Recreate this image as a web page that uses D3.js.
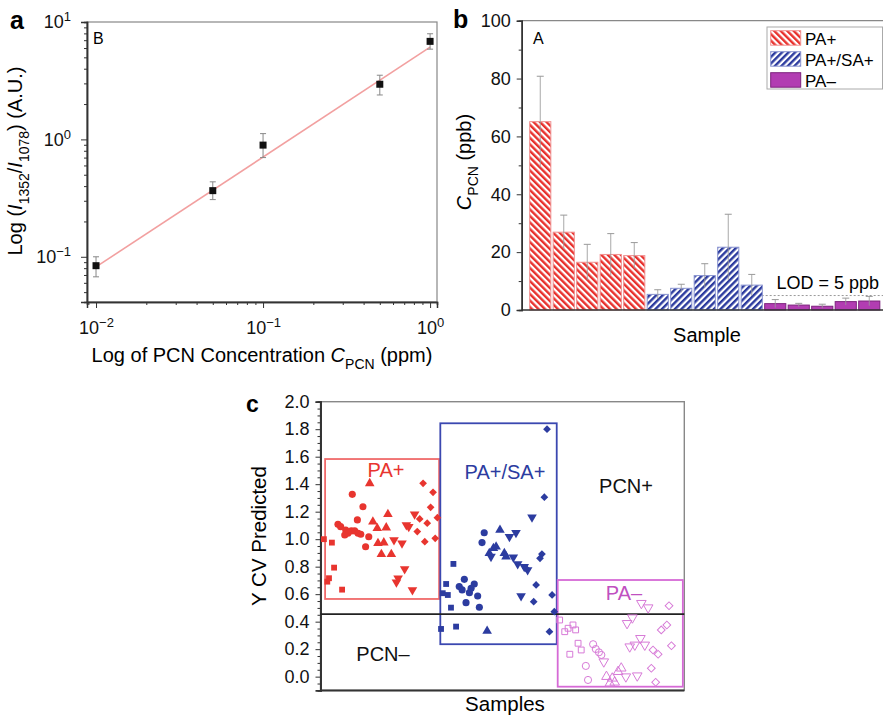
<!DOCTYPE html>
<html>
<head>
<meta charset="utf-8">
<script src="https://cdn.jsdelivr.net/npm/d3@7"></script>
<style>
  body { margin: 0; background: #fff; }
  svg text { font-family: "Liberation Sans", Arial, sans-serif; }
</style>
</head>
<body>
<div id="content"></div>
<script>
// ---- panel a data
var aConc = [0.01, 0.05, 0.1, 0.5, 1];
var aRatio = [0.084, 0.366, 0.894, 2.95, 6.84];
var aLow = [0.0675, 0.307, 0.70, 2.39, 5.87];
var aHigh = [0.100, 0.435, 1.12, 3.52, 7.94];
var aFitX = [0.01, 1];
var aFitY = [0.082, 6.1];

// ---- panel b data
var bSamples = d3.range(1, 16);
var bGroups = ["PA+", "PA+", "PA+", "PA+", "PA+",
               "PA+/SA+", "PA+/SA+", "PA+/SA+", "PA+/SA+", "PA+/SA+",
               "PA–", "PA–", "PA–", "PA–", "PA–"];
var bValues = [65.1, 26.9, 16.5, 19.2, 18.8, 5.4, 7.5, 11.9, 21.7, 8.6, 2.2, 1.7, 1.3, 2.9, 3.1];
var bErrors = [15.7, 5.9, 6.2, 7.2, 4.5, 1.6, 1.4, 4.1, 11.4, 3.7, 1.4, 0.6, 0.7, 1.2, 1.6];
var bLegend = ["PA+", "PA+/SA+", "PA–"];
var bLod = 5;

// ---- panel c data  [sample, predicted]
var cRedSq  = [[1.4,1.00],[4.7,0.975],[5.6,0.793],[3.5,0.716],[2.8,0.691],[8.9,0.633]];
var cRedCi  = [[13.1,1.326],[17.5,1.236],[7.2,1.108],[8.3,1.091],[10.4,1.067],[11.3,1.043],[12.7,1.06],
               [14.1,1.06],[15.5,1.043],[16.6,1.036],[15.2,1.14],[19.9,1.018],[18.6,0.945],[10.0,1.03]];
var cRedTri = [[20.3,1.406],[27.8,1.181],[21.6,1.127],[23.4,1.079],[27.1,1.084],[23.7,0.97],[26.1,0.975],
               [25.1,0.89],[29.2,0.89]];
var cRedInv = [[30.3,0.994],[33.6,0.97],[34.7,0.783],[32.0,0.716],[31.3,0.687],[37.9,0.631],[35.4,1.103],
               [36.4,1.091],[38.8,1.181]];
var cRedDia = [[42.3,1.406],[46.4,1.341],[45.4,1.232],[40.9,1.147],[44.0,1.116],[48.2,1.156],[39.9,1.055],
               [43.0,0.982],[47.3,1.006]];

var cBlueSq  = [[54.8,0.82],[51.8,0.674],[50.4,0.607],[52.5,0.594],[53.8,0.502],[49.7,0.347],[55.9,0.364]];
var cBlueCi  = [[59.3,0.708],[57.2,0.655],[58.4,0.631],[63.4,0.674],[61.4,0.611],[62.1,0.643],[64.8,0.587],
                [60.0,0.538],[65.5,0.505],[67.5,1.047],[66.6,0.975]];
var cBlueTri = [[74.0,1.067],[72.4,0.945],[69.6,0.897],[75.8,0.897],[76.5,0.873],[68.7,0.332],[71.3,0.934]];
var cBlueInv = [[80.6,1.047],[77.9,1.018],[79.5,0.868],[81.3,0.82],[84.0,0.80],[85.4,0.776],[82.7,0.587],
                [87.2,1.159],[70.3,0.873]];
var cBlueDia = [[93.4,1.80],[92.3,1.305],[91.3,0.892],[90.5,0.861],[88.9,0.667],[87.9,0.545],[95.5,0.594],
                [96.4,0.473],[94.4,0.327],[84.7,0.788]];

var cMagSq  = [[98.6,0.412],[102.1,0.352],[100.7,0.327],[104.1,0.376],[105.2,0.34],[102.8,0.163],
               [106.2,0.243],[107.5,0.194]];
var cMagCi  = [[112.4,0.236],[113.5,0.201],[114.8,0.177],[115.8,0.158],[109.4,0.078],[110.3,-0.024]];
var cMagTri = [[117.9,0.0],[120.3,-0.012],[122.7,0.036],[124.0,0.061],[121.3,-0.041],[119.3,-0.048]];
var cMagInv = [[116.8,0.109],[126.4,0.388],[128.6,0.429],[132.3,0.534],[135.1,0.502],[127.5,0.218],
               [129.6,0.231],[131.9,0.279],[133.7,0.231],[130.6,0.007],[125.9,0.0]];
var cMagDia = [[143.7,0.516],[142.8,0.376],[140.5,0.34],[144.7,0.225],[137.1,0.194],[139.2,0.163],
               [136.4,0.061],[138.2,-0.041]];

var cBoxes = [[1.9, 48.9, 0.565, 1.583], [49.4, 97.4, 0.236, 1.843], [97.8, 149.4, -0.073, 0.703]];
var cThreshold = 0.455;
var cTicks = d3.range(0, 2.01, 0.2);

var svg = d3.select("#content").append("svg")
    .attr("width", 883).attr("height", 715);

var defs = svg.append("defs");
function hatch(id, color, angle) {
  var p = defs.append("pattern")
      .attr("id", id).attr("patternUnits", "userSpaceOnUse")
      .attr("width", 4.6).attr("height", 4.6)
      .attr("patternTransform", "rotate(" + angle + ")");
  p.append("rect").attr("width", 4.6).attr("height", 4.6).attr("fill", "#fff");
  p.append("rect").attr("width", 2.4).attr("height", 4.6).attr("fill", color);
}
hatch("hRed", "#e8302c", -45);
hatch("hBlue", "#2b3a9e", 45);

// helper: text with italic / subscript parts
function rich(sel, parts, subSize) {
  var shift = 0;
  parts.forEach(function(p) {
    var t = sel.append("tspan").text(p.t);
    var want = p.sub ? 0.35 : (p.sup ? -0.55 : 0);
    var em = p.sub || p.sup ? subSize : null;
    if (want !== shift) {
      t.attr("dy", (want - shift) * 20 + "px");
      shift = want;
    }
    if (p.it) t.attr("font-style", "italic");
    if (em) t.attr("font-size", em + "px");
  });
}

// ================= panel a =================
var ax = d3.scaleLog().domain([0.00883, 1.10]).range([87, 437]);
var ay = d3.scaleLog().domain([0.0412, 10]).range([302, 22]);
var ga = svg.append("g");

ga.append("rect").attr("x", 87).attr("y", 22).attr("width", 350).attr("height", 280)
  .attr("fill", "none").attr("stroke", "#888").attr("stroke-width", 1.2);

var minorX = [], minorY = [];
[0.001, 0.01, 0.1, 1].forEach(function(k) {
  for (var i = 2; i < 10; i++) {
    if (ax.domain()[0] <= i * k && i * k <= ax.domain()[1]) minorX.push(i * k);
    if (ay.domain()[0] <= i * k && i * k <= ay.domain()[1]) minorY.push(i * k);
  }
});

function sup10(selection, exps) {
  selection.selectAll(".tick text").each(function(d, i) {
    var t = d3.select(this).text("");
    t.append("tspan").text("10");
    t.append("tspan").attr("dy", "-0.55em").attr("font-size", "13px").text(exps[i]);
  });
}

var axB = ga.append("g").attr("transform", "translate(0,302)")
  .call(d3.axisBottom(ax).tickValues([0.01, 0.1, 1]).tickSize(6).tickPadding(8));
sup10(axB, ["−2", "−1", "0"]);
ga.append("g").attr("transform", "translate(0,302)")
  .call(d3.axisBottom(ax).tickValues(minorX).tickSize(3).tickFormat(""));

var axL = ga.append("g").attr("transform", "translate(87,0)")
  .call(d3.axisLeft(ay).tickValues([0.1, 1, 10]).tickSize(6).tickPadding(10));
sup10(axL, ["−1", "0", "1"]);
ga.append("g").attr("transform", "translate(87,0)")
  .call(d3.axisLeft(ay).tickValues(minorY).tickSize(3).tickFormat(""));

ga.selectAll(".domain").attr("stroke", "#333").attr("stroke-width", 1.5);
ga.selectAll(".tick line").attr("stroke", "#333");
ga.selectAll(".tick text").attr("font-size", "18px").attr("fill", "#111")
  .attr("font-family", "Liberation Sans, Arial, sans-serif");
axB.selectAll(".tick text").attr("dy", "1.0em");

ga.append("line")
  .attr("x1", ax(aFitX[0])).attr("y1", ay(aFitY[0]))
  .attr("x2", ax(aFitX[1])).attr("y2", ay(aFitY[1]))
  .attr("stroke", "#f2a0a0").attr("stroke-width", 1.6);

aConc.forEach(function(c, i) {
  var x = ax(c);
  ga.append("line").attr("x1", x).attr("x2", x).attr("y1", ay(aLow[i])).attr("y2", ay(aHigh[i]))
    .attr("stroke", "#888").attr("stroke-width", 1);
  [aLow[i], aHigh[i]].forEach(function(v) {
    ga.append("line").attr("x1", x - 3).attr("x2", x + 3).attr("y1", ay(v)).attr("y2", ay(v))
      .attr("stroke", "#888").attr("stroke-width", 1);
  });
  ga.append("rect").attr("x", x - 3.5).attr("y", ay(aRatio[i]) - 3.5)
    .attr("width", 7).attr("height", 7).attr("fill", "#111");
});

ga.append("text").attr("x", 93).attr("y", 44).attr("font-size", "16px").text("B");
svg.append("text").attr("x", 10).attr("y", 29).attr("font-size", "25px").attr("font-weight", "bold").text("a");

rich(svg.append("text").attr("text-anchor", "middle").attr("font-size", "20px")
  .attr("transform", "translate(22,161) rotate(-90)"),
  [{t: "Log ("}, {t: "I", it: true}, {t: "1352", sub: true}, {t: "/"}, {t: "I", it: true},
   {t: "1078", sub: true}, {t: ") (A.U.)"}], 14);

rich(svg.append("text").attr("x", 262).attr("y", 362).attr("text-anchor", "middle").attr("font-size", "20px"),
  [{t: "Log of PCN Concentration "}, {t: "C", it: true}, {t: "PCN", sub: true}, {t: " (ppm)"}], 14);

// ================= panel b =================
var bx = d3.scaleBand().domain(bSamples).range([528.5, 881]).paddingInner(0.1).paddingOuter(0.05);
var by = d3.scaleLinear().domain([0, 100]).range([310, 20.7]);
var gb = svg.append("g");

gb.append("line").attr("x1", 521.7).attr("x2", 883).attr("y1", 20.7).attr("y2", 20.7)
  .attr("stroke", "#888").attr("stroke-width", 1.2);

var fillFor = {"PA+": "url(#hRed)", "PA+/SA+": "url(#hBlue)", "PA–": "#b23db2"};
var strokeFor = {"PA+": "#f09090", "PA+/SA+": "#8a94d0", "PA–": "#7d237d"};

gb.append("line").attr("x1", bx(11) - 3).attr("x2", 883).attr("y1", by(bLod)).attr("y2", by(bLod))
  .attr("stroke", "#999").attr("stroke-dasharray", "2,2").attr("stroke-width", 1);

gb.selectAll("rect.bar").data(bValues).enter().append("rect")
  .attr("class", "bar")
  .attr("x", function(d, i) { return bx(bSamples[i]); })
  .attr("y", function(d) { return by(d); })
  .attr("width", bx.bandwidth())
  .attr("height", function(d) { return by(0) - by(d); })
  .attr("fill", function(d, i) { return fillFor[bGroups[i]]; })
  .attr("stroke", function(d, i) { return strokeFor[bGroups[i]]; })
  .attr("stroke-width", 1);

bValues.forEach(function(v, i) {
  var x = bx(bSamples[i]) + bx.bandwidth() / 2;
  gb.append("line").attr("x1", x).attr("x2", x).attr("y1", by(v - bErrors[i])).attr("y2", by(v + bErrors[i]))
    .attr("stroke", "#999").attr("stroke-opacity", 0.85).attr("stroke-width", 1);
  gb.append("line").attr("x1", x - 3.5).attr("x2", x + 3.5).attr("y1", by(v + bErrors[i])).attr("y2", by(v + bErrors[i]))
    .attr("stroke", "#999").attr("stroke-width", 1);
});

var byAxis = gb.append("g").attr("transform", "translate(521.7,0)")
  .call(d3.axisLeft(by).tickValues([0, 20, 40, 60, 80, 100]).tickSize(5).tickPadding(6));
gb.append("g").attr("transform", "translate(521.7,0)")
  .call(d3.axisLeft(by).tickValues([10, 30, 50, 70, 90]).tickSize(3).tickFormat(""));
gb.append("line").attr("x1", 521.7).attr("x2", 883).attr("y1", 310).attr("y2", 310)
  .attr("stroke", "#333").attr("stroke-width", 1.5);
gb.selectAll(".domain").attr("stroke", "#333").attr("stroke-width", 1.5);
gb.selectAll(".tick line").attr("stroke", "#333");
byAxis.selectAll(".tick text").attr("font-size", "18px").attr("fill", "#111")
  .attr("font-family", "Liberation Sans, Arial, sans-serif");

gb.append("text").attr("x", 776.5).attr("y", 289).attr("font-size", "18px").text("LOD = 5 ppb");

// legend
var lg = gb.append("g");
lg.append("rect").attr("x", 767).attr("y", 27).attr("width", 115.5).attr("height", 62)
  .attr("fill", "#fff").attr("stroke", "#aaa").attr("stroke-width", 1);
bLegend.forEach(function(k, i) {
  var y0 = 30.7 + i * 21;
  lg.append("rect").attr("x", 770.7).attr("y", y0).attr("width", 30).attr("height", 14.5)
    .attr("fill", fillFor[k]).attr("stroke", strokeFor[k]);
  lg.append("text").attr("x", 805).attr("y", y0 + 14).attr("font-size", "17px").text(k);
});

gb.append("text").attr("x", 533).attr("y", 44).attr("font-size", "16px").text("A");
svg.append("text").attr("x", 453).attr("y", 28).attr("font-size", "25px").attr("font-weight", "bold").text("b");

rich(svg.append("text").attr("text-anchor", "middle").attr("font-size", "20px")
  .attr("transform", "translate(471,162) rotate(-90)"),
  [{t: "C", it: true}, {t: "PCN", sub: true}, {t: " (ppb)"}], 14);
svg.append("text").attr("x", 707).attr("y", 342).attr("text-anchor", "middle").attr("font-size", "20px").text("Sample");

// ================= panel c =================
var cx = d3.scaleLinear().domain([0, 150]).range([320.5, 684.3]);
var cy = d3.scaleLinear().domain([-0.1, 2.0]).range([690.4, 401.7]);
var gc = svg.append("g");

gc.append("rect").attr("x", 320.5).attr("y", 401.7).attr("width", 363.8).attr("height", 288.7)
  .attr("fill", "none").attr("stroke", "#888").attr("stroke-width", 1.4);

var cyAxis = gc.append("g").attr("transform", "translate(320.5,0)")
  .call(d3.axisLeft(cy).tickValues(cTicks).tickSize(5).tickPadding(6).tickFormat(d3.format(".1f")));
gc.append("g").attr("transform", "translate(320.5,0)")
  .call(d3.axisLeft(cy).tickValues(d3.range(-0.05, 2.0, 0.05).filter(function(v) {
    return Math.abs(Math.round(v * 5) - v * 5) > 0.01; })).tickSize(3).tickFormat(""));
gc.append("line").attr("x1", 320.5).attr("x2", 684.3).attr("y1", 690.4).attr("y2", 690.4)
  .attr("stroke", "#333").attr("stroke-width", 2);
gc.selectAll(".domain").attr("stroke", "#333").attr("stroke-width", 1.8);
gc.selectAll(".tick line").attr("stroke", "#333");
cyAxis.selectAll(".tick text").attr("font-size", "18px").attr("fill", "#111")
  .attr("font-family", "Liberation Sans, Arial, sans-serif");

var cColors = ["#f06a6a", "#3b48b0", "#d66ad6"];
cBoxes.forEach(function(b, i) {
  gc.append("rect").attr("x", cx(b[0])).attr("y", cy(b[3]))
    .attr("width", cx(b[1]) - cx(b[0])).attr("height", cy(b[2]) - cy(b[3]))
    .attr("fill", "none").attr("stroke", cColors[i]).attr("stroke-width", 1.8);
});

gc.append("line").attr("x1", 320.5).attr("x2", 684.3).attr("y1", cy(cThreshold)).attr("y2", cy(cThreshold))
  .attr("stroke", "#222").attr("stroke-width", 1.6);

// shape: "sq", "ci", "tri", "inv", "dia"
function drawPoints(data, shape, color, hollow) {
  var type = {sq: d3.symbolSquare, ci: d3.symbolCircle, tri: d3.symbolTriangle,
              inv: d3.symbolTriangle, dia: d3.symbolSquare}[shape];
  var size = shape === "sq" ? 34 : (shape === "dia" ? 30 : 40);
  var rot = shape === "inv" ? " rotate(180)" : (shape === "dia" ? " rotate(45)" : "");
  gc.selectAll(null).data(data).enter().append("path")
    .attr("d", d3.symbol().type(type).size(size))
    .attr("transform", function(d) {
      return "translate(" + cx(d[0]) + "," + cy(d[1]) + ")" + rot;
    })
    .attr("fill", hollow ? "none" : color)
    .attr("stroke", hollow ? color : "none")
    .attr("stroke-width", 1);
}
var red = "#e8352f", blue = "#2c3ca0", mag = "#d77ad7";
drawPoints(cRedSq, "sq", red);
drawPoints(cRedCi, "ci", red);
drawPoints(cRedTri, "tri", red);
drawPoints(cRedInv, "inv", red);
drawPoints(cRedDia, "dia", red);
drawPoints(cBlueSq, "sq", blue);
drawPoints(cBlueCi, "ci", blue);
drawPoints(cBlueTri, "tri", blue);
drawPoints(cBlueInv, "inv", blue);
drawPoints(cBlueDia, "dia", blue);
drawPoints(cMagSq, "sq", mag, true);
drawPoints(cMagCi, "ci", mag, true);
drawPoints(cMagTri, "tri", mag, true);
drawPoints(cMagInv, "inv", mag, true);
drawPoints(cMagDia, "dia", mag, true);

gc.append("text").attr("x", 386).attr("y", 477).attr("text-anchor", "middle").attr("font-size", "20px")
  .attr("fill", "#e8352f").text("PA+");
gc.append("text").attr("x", 505).attr("y", 479).attr("text-anchor", "middle").attr("font-size", "20px")
  .attr("fill", "#2c3ca0").text("PA+/SA+");
gc.append("text").attr("x", 626).attr("y", 493).attr("text-anchor", "middle").attr("font-size", "20px")
  .attr("fill", "#111").text("PCN+");
gc.append("text").attr("x", 624).attr("y", 600).attr("text-anchor", "middle").attr("font-size", "20px")
  .attr("fill", "#c050c0").text("PA–");
gc.append("text").attr("x", 383).attr("y", 661).attr("text-anchor", "middle").attr("font-size", "20px")
  .attr("fill", "#111").text("PCN–");

svg.append("text").attr("x", 246).attr("y", 412).attr("font-size", "23px").attr("font-weight", "bold").text("c");
svg.append("text").attr("text-anchor", "middle").attr("font-size", "20.5px")
  .attr("transform", "translate(266,536) rotate(-90)").text("Y CV Predicted");
svg.append("text").attr("x", 505).attr("y", 711).attr("text-anchor", "middle").attr("font-size", "20.5px").text("Samples");
</script>
</body>
</html>
